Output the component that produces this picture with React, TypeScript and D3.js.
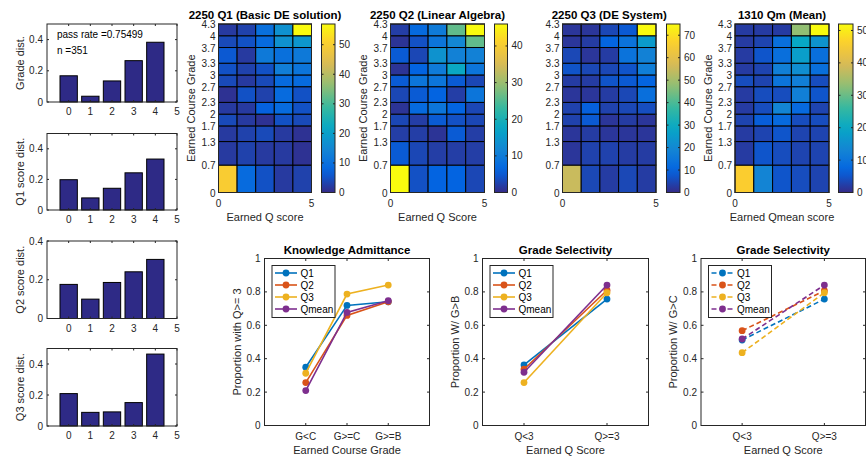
import React from "react";
import * as d3 from "d3";

// ---------- data ----------
const BAR_X = [0, 1, 2, 3, 4, 5];
const BAR_X_TICKS = [0, 1, 2, 3, 4, 5];
const GRADE_DIST = [0.168, 0.037, 0.135, 0.265, 0.383, 0];
const Q1_DIST = [0.198, 0.079, 0.142, 0.243, 0.333, 0];
const Q2_DIST = [0.176, 0.1, 0.186, 0.241, 0.305, 0];
const Q3_DIST = [0.209, 0.088, 0.091, 0.151, 0.464, 0];
const PASS_RATE = "0.75499";
const N_STUDENTS = 351;

const GRADE_EDGES = [0, 0.7, 1.3, 1.7, 2, 2.3, 2.7, 3, 3.3, 3.7, 4, 4.3];
const GRADE_TICK_LABELS = ["0", "0.7", "1.3", "1.7", "2", "2.3", "2.7", "3", "3.3", "3.7", "4", "4.3"];
const Q_EDGES = [0, 1, 2, 3, 4, 5];
const Q_TICKS = [0, 5];

// rows from grade 0 (bottom) to grade 4.3 (top); columns Q score 0..4
const HEAT_Q1 = [
  [50, 9, 5, 2, 3],
  [2, 3, 2, 2, 1],
  [2, 3, 4, 2, 1],
  [4, 2, 1, 5, 4],
  [2, 2, 7, 9, 5],
  [1, 5, 3, 9, 5],
  [4, 2, 4, 9, 9],
  [5, 3, 5, 13, 11],
  [6, 2, 12, 10, 12],
  [4, 5, 9, 17, 18],
  [2, 3, 10, 17, 57],
];
const HEAT_Q2 = [
  [46, 4, 6, 6, 3],
  [5, 3, 2, 2, 2],
  [2, 2, 1, 5, 2],
  [3, 2, 5, 4, 3],
  [1, 7, 9, 6, 3],
  [3, 5, 6, 2, 9],
  [5, 9, 9, 5, 3],
  [1, 6, 10, 18, 9],
  [5, 3, 14, 11, 11],
  [1, 4, 9, 12, 26],
  [2, 7, 10, 26, 46],
];
const HEAT_Q3 = [
  [55, 5, 3, 5, 3],
  [2, 4, 4, 3, 3],
  [2, 3, 2, 2, 2],
  [4, 8, 2, 3, 2],
  [4, 9, 4, 5, 6],
  [2, 2, 3, 5, 13],
  [3, 3, 7, 8, 10],
  [7, 5, 5, 7, 17],
  [5, 2, 3, 14, 18],
  [2, 3, 10, 14, 25],
  [2, 2, 5, 8, 75],
];
const HEAT_QM = [
  [46, 13, 5, 4, 3],
  [2, 5, 4, 3, 3],
  [2, 3, 5, 3, 3],
  [3, 6, 8, 4, 4],
  [2, 4, 13, 8, 3],
  [2, 4, 4, 12, 5],
  [4, 3, 10, 12, 4],
  [2, 3, 12, 15, 9],
  [2, 5, 9, 18, 9],
  [2, 3, 9, 20, 16],
  [2, 2, 2, 33, 52],
];

const KA_CATS = ["G<C", "G>=C", "G>=B"];
const KA_Q1 = [0.349, 0.719, 0.741];
const KA_Q2 = [0.257, 0.659, 0.741];
const KA_Q3 = [0.313, 0.787, 0.841];
const KA_QM = [0.209, 0.677, 0.747];

const GS_CATS = ["Q<3", "Q>=3"];
const GSB_Q1 = [0.363, 0.757];
const GSB_Q2 = [0.337, 0.81];
const GSB_Q3 = [0.257, 0.795];
const GSB_QM = [0.319, 0.841];

const GSC_Q1 = [0.512, 0.757];
const GSC_Q2 = [0.568, 0.807];
const GSC_Q3 = [0.436, 0.795];
const GSC_QM = [0.518, 0.841];

const SERIES_NAMES = ["Q1", "Q2", "Q3", "Qmean"];
const LINE_Y_TICKS = [0, 0.2, 0.4, 0.6, 0.8, 1];

// ---------- style ----------
const FONT = "'Liberation Sans', Arial, Helvetica, sans-serif";
const AX = "#262626";
const BAR_FILL = "#2e2a86";
const SERIES_COLORS = ["#0072BD", "#D95319", "#EDB120", "#7E2F8E"];
const PARULA_POS = [0, 8, 16, 24, 32, 40, 48, 56, 63].map((i) => i / 63);
const PARULA_COLORS = ["#352a87", "#0363e1", "#1485d4", "#06a7c6", "#38b99e", "#92bf73", "#d9ba56", "#fcce2e", "#f9fb0e"];
const parula = d3.scaleLinear<string>().domain(PARULA_POS).range(PARULA_COLORS).interpolate(d3.interpolateRgb).clamp(true);

const LABEL_SIZE = 11;
const TITLE_SIZE = 11.5;

type Box = { l: number; r: number; t: number; b: number };

function BoxFrame({ box, sw = 1 }: { box: Box; sw?: number }) {
  return (
    <rect x={box.l} y={box.t} width={box.r - box.l} height={box.b - box.t} fill="none" stroke={AX} strokeWidth={sw} />
  );
}

function YLabel({ x, y, text, size = LABEL_SIZE }: { x: number; y: number; text: string; size?: number }) {
  return (
    <text transform={`translate(${x + size * 0.36},${y}) rotate(-90)`} textAnchor="middle" fontSize={size} fill={AX}>
      {text}
    </text>
  );
}

function BarPanel({ box, yMax, yTicks, values, ylabel, annot }: { box: Box; yMax: number; yTicks: number[]; values: number[]; ylabel: string; annot?: string[] }) {
  const x = d3.scaleLinear().domain([-1, 5]).range([box.l, box.r]);
  const y = d3.scaleLinear().domain([0, yMax]).range([box.b, box.t]);
  const bw = x(0.8) - x(0);
  const clipId = `clip-${ylabel.replace(/[^a-z0-9]/gi, "")}`;
  return (
    <g>
      <defs>
        <clipPath id={clipId}>
          <rect x={box.l} y={box.t} width={box.r - box.l} height={box.b - box.t + 1} />
        </clipPath>
      </defs>
      <g clipPath={`url(#${clipId})`}>
        {BAR_X.map((d, i) => (
          <rect key={i} x={x(d) - bw / 2} y={y(values[i])} width={bw} height={Math.max(0, y(0) - y(values[i]))} fill={BAR_FILL} stroke="#000" strokeWidth={1} />
        ))}
      </g>
      <BoxFrame box={box} />
      {BAR_X_TICKS.map((t) => (
        <g key={t}>
          <line x1={x(t)} x2={x(t)} y1={box.b} y2={box.b - 2} stroke={AX} />
          <line x1={x(t)} x2={x(t)} y1={box.t} y2={box.t + 2} stroke={AX} />
          <text x={x(t)} y={box.b + 13} textAnchor="middle" fontSize={10} fill={AX}>{t}</text>
        </g>
      ))}
      {yTicks.map((t) => (
        <g key={t}>
          <line x1={box.l} x2={box.l + 2} y1={y(t)} y2={y(t)} stroke={AX} />
          <line x1={box.r} x2={box.r - 2} y1={y(t)} y2={y(t)} stroke={AX} />
          <text x={box.l - 4} y={y(t) + 3.5} textAnchor="end" fontSize={10} fill={AX}>{String(t)}</text>
        </g>
      ))}
      <YLabel x={20} y={(box.t + box.b) / 2} text={ylabel} />
      {annot &&
        annot.map((s, i) => (
          <text key={i} x={box.l + 10} y={box.t + 14 + i * 16} fontSize={10} fill="#000">{s}</text>
        ))}
    </g>
  );
}

function HeatPanel({ id, box, cb, data, title, xlabel, ylabel }: { id: string; box: Box; cb: { l: number; r: number }; data: number[][]; title: string; xlabel?: string; ylabel?: string }) {
  const max = d3.max(data.flat()) as number;
  const x = d3.scaleLinear().domain([0, 5]).range([box.l, box.r]);
  const y = d3.scaleLinear().domain([0, 4.3]).range([box.b, box.t]);
  const cy = d3.scaleLinear().domain([0, max]).range([box.b, box.t]);
  const cbTicks = d3.range(0, max + 0.001, 10);
  const stops = d3.range(0, 1.0001, 0.05);
  return (
    <g>
      <defs>
        <linearGradient id={`grad-${id}`} x1="0" y1="1" x2="0" y2="0">
          {stops.map((s, i) => (
            <stop key={i} offset={s} stopColor={parula(s)} />
          ))}
        </linearGradient>
      </defs>
      {data.map((row, r) =>
        row.map((v, c) => (
          <rect
            key={`${r}-${c}`}
            x={x(Q_EDGES[c])}
            y={y(GRADE_EDGES[r + 1])}
            width={x(Q_EDGES[c + 1]) - x(Q_EDGES[c])}
            height={y(GRADE_EDGES[r]) - y(GRADE_EDGES[r + 1])}
            fill={parula(v / max)}
            stroke="#000"
            strokeWidth={1}
          />
        ))
      )}
      <BoxFrame box={box} />
      {GRADE_EDGES.map((g, i) => (
        <text key={i} x={box.l - 3} y={y(g) + 4} textAnchor="end" fontSize={10} fill={AX}>{GRADE_TICK_LABELS[i]}</text>
      ))}
      {Q_TICKS.map((t) => (
        <text key={t} x={x(t)} y={box.b + 14} textAnchor="middle" fontSize={10} fill={AX}>{t}</text>
      ))}
      <text x={(box.l + box.r) / 2} y={box.t - 5} textAnchor="middle" fontSize={TITLE_SIZE} fontWeight="bold" fill="#000">{title}</text>
      {xlabel && (
        <text x={(box.l + box.r) / 2} y={box.b + 28} textAnchor="middle" fontSize={LABEL_SIZE} fill={AX}>{xlabel}</text>
      )}
      {ylabel && <YLabel x={box.l - 27} y={(box.t + box.b) / 2} text={ylabel} />}
      <rect x={cb.l} y={box.t} width={cb.r - cb.l} height={box.b - box.t} fill={`url(#grad-${id})`} stroke={AX} strokeWidth={1} />
      {cbTicks.map((t) => (
        <g key={t}>
          <line x1={cb.r} x2={cb.r - 2} y1={cy(t)} y2={cy(t)} stroke={AX} />
          <line x1={cb.l} x2={cb.l + 2} y1={cy(t)} y2={cy(t)} stroke={AX} />
          <text x={cb.r + 4} y={cy(t) + 3.5} fontSize={10} fill={AX}>{t}</text>
        </g>
      ))}
    </g>
  );
}

function LinePanel({ id, box, xDomain, cats, series, title, xlabel, ylabel, dashed }: { id: string; box: Box; xDomain: [number, number]; cats: string[]; series: number[][]; title: string; xlabel: string; ylabel: string; dashed?: boolean }) {
  const x = d3.scaleLinear().domain(xDomain).range([box.l, box.r]);
  const y = d3.scaleLinear().domain([0, 1]).range([box.b, box.t]);
  const line = d3
    .line<number>()
    .x((_, i) => x(i + 1))
    .y((d) => y(d));
  const dash = dashed ? "5,3" : undefined;
  const lg = { l: box.l + 7.5, t: box.t + 7 };
  return (
    <g>
      <rect x={box.l} y={box.t} width={box.r - box.l} height={box.b - box.t} fill="#fff" />
      {LINE_Y_TICKS.map((t) => (
        <g key={t}>
          <line x1={box.l} x2={box.l + 2.5} y1={y(t)} y2={y(t)} stroke={AX} />
          <line x1={box.r} x2={box.r - 2.5} y1={y(t)} y2={y(t)} stroke={AX} />
          <text x={box.l - 4} y={y(t) + 3.5} textAnchor="end" fontSize={10} fill={AX}>{String(t)}</text>
        </g>
      ))}
      {cats.map((c, i) => (
        <g key={c}>
          <line x1={x(i + 1)} x2={x(i + 1)} y1={box.b} y2={box.b - 2.5} stroke={AX} />
          <line x1={x(i + 1)} x2={x(i + 1)} y1={box.t} y2={box.t + 2.5} stroke={AX} />
          <text x={x(i + 1)} y={box.b + 14} textAnchor="middle" fontSize={10} fill={AX}>{c}</text>
        </g>
      ))}
      {series.map((s, k) => (
        <g key={k}>
          <path d={line(s) || ""} fill="none" stroke={SERIES_COLORS[k]} strokeWidth={1.6} strokeDasharray={dash} />
          {s.map((v, i) => (
            <circle key={i} cx={x(i + 1)} cy={y(v)} r={3.4} fill={SERIES_COLORS[k]} />
          ))}
        </g>
      ))}
      <BoxFrame box={box} />
      <text x={(box.l + box.r) / 2} y={box.t - 4.5} textAnchor="middle" fontSize={TITLE_SIZE} fontWeight="bold" fill="#000">{title}</text>
      <text x={(box.l + box.r) / 2} y={box.b + 28.5} textAnchor="middle" fontSize={LABEL_SIZE} fill={AX}>{xlabel}</text>
      <YLabel x={box.l - 27.5} y={(box.t + box.b) / 2} text={ylabel} />
      <g>
        <rect x={lg.l} y={lg.t} width={63} height={52} fill="#fff" stroke={AX} strokeWidth={1} />
        {SERIES_NAMES.map((n, k) => {
          const yy = lg.t + 7.5 + k * 12;
          return (
            <g key={n}>
              <line x1={lg.l + 3} x2={lg.l + 25} y1={yy} y2={yy} stroke={SERIES_COLORS[k]} strokeWidth={1.6} strokeDasharray={dash} />
              <circle cx={lg.l + 14} cy={yy} r={3.4} fill={SERIES_COLORS[k]} />
              <text x={lg.l + 28.5} y={yy + 3.5} fontSize={10} fill="#000">{n}</text>
            </g>
          );
        })}
      </g>
    </g>
  );
}

export default function App() {
  return (
    <svg width={866} height={466} style={{ position: "absolute", left: 0, top: 0, background: "#fff" }} fontFamily={FONT}>
      <rect x={0} y={0} width={866} height={466} fill="#fff" />
      <BarPanel box={{ l: 47, r: 177, t: 24, b: 102 }} yMax={0.5} yTicks={[0, 0.2, 0.4]} values={GRADE_DIST} ylabel="Grade dist." annot={[`pass rate =${PASS_RATE}`, `n =${N_STUDENTS}`]} />
      <BarPanel box={{ l: 47, r: 177, t: 133.5, b: 210 }} yMax={0.5} yTicks={[0, 0.2, 0.4]} values={Q1_DIST} ylabel="Q1 score dist." />
      <BarPanel box={{ l: 47, r: 177, t: 241, b: 318.5 }} yMax={0.4} yTicks={[0, 0.2, 0.4]} values={Q2_DIST} ylabel="Q2 score dist." />
      <BarPanel box={{ l: 47, r: 177, t: 348.5, b: 426 }} yMax={0.5} yTicks={[0, 0.2, 0.4]} values={Q3_DIST} ylabel="Q3 score dist." />

      <HeatPanel id="h1" box={{ l: 218.5, r: 311.5, t: 24, b: 192.5 }} cb={{ l: 321.5, r: 335 }} data={HEAT_Q1} title="2250 Q1 (Basic DE solution)" xlabel="Earned Q score" ylabel="Earned Course Grade" />
      <HeatPanel id="h2" box={{ l: 390.5, r: 484.5, t: 24, b: 192.5 }} cb={{ l: 494.5, r: 507.5 }} data={HEAT_Q2} title="2250 Q2 (Linear Algebra)" xlabel="Earned Q Score" ylabel="Earned Course Grade" />
      <HeatPanel id="h3" box={{ l: 562.5, r: 656, t: 24, b: 192.5 }} cb={{ l: 666.5, r: 680 }} data={HEAT_Q3} title="2250 Q3 (DE System)" />
      <HeatPanel id="h4" box={{ l: 735, r: 829, t: 24, b: 192.5 }} cb={{ l: 838.5, r: 853 }} data={HEAT_QM} title="1310 Qm (Mean)" xlabel="Earned Qmean score" ylabel="Earned Course Grade" />

      <LinePanel id="l1" box={{ l: 264.5, r: 429.5, t: 258.5, b: 425.5 }} xDomain={[0, 4]} cats={KA_CATS} series={[KA_Q1, KA_Q2, KA_Q3, KA_QM]} title="Knowledge Admittance" xlabel="Earned Course Grade" ylabel="Proportion with Q>= 3" />
      <LinePanel id="l2" box={{ l: 482.5, r: 648.5, t: 258.5, b: 425.5 }} xDomain={[0.5, 2.5]} cats={GS_CATS} series={[GSB_Q1, GSB_Q2, GSB_Q3, GSB_QM]} title="Grade Selectivity" xlabel="Earned Q Score" ylabel="Proportion W/ G>B" />
      <LinePanel id="l3" box={{ l: 701, r: 865.5, t: 258.5, b: 425.5 }} xDomain={[0.5, 2.5]} cats={GS_CATS} series={[GSC_Q1, GSC_Q2, GSC_Q3, GSC_QM]} title="Grade Selectivity" xlabel="Earned Q Score" ylabel="Proportion W/ G>C" dashed />
    </svg>
  );
}
